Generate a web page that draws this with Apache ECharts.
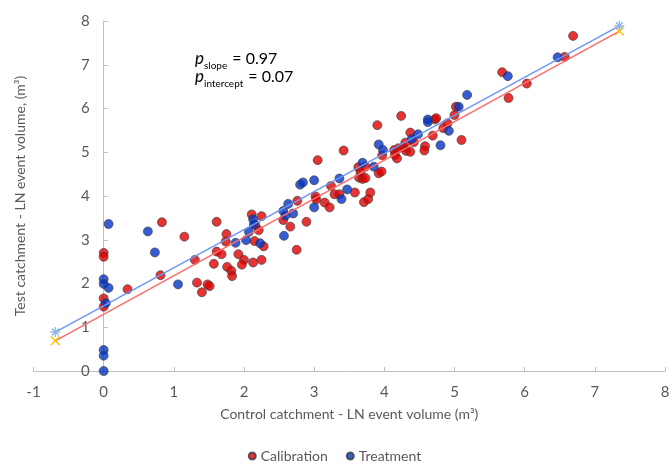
<!DOCTYPE html>
<html>
<head>
<meta charset="utf-8">
<script src="https://cdn.jsdelivr.net/npm/echarts@6/dist/echarts.min.js"></script>
<style>
  html, body { margin: 0; padding: 0; background: #fff; }
  #chart { width: 669px; height: 465px; }
</style>
</head>
<body>
<div id="chart"></div>
<script>
// calibration period events (control x, test y)
const calibration = [
  [0.83, 3.40], [1.15, 3.07], [1.61, 3.41], [0, 2.70], [0, 2.61], [0.34, 1.87], [0.81, 2.19],
  [1.30, 2.54], [0, 1.66], [0, 1.47], [1.33, 2.02], [1.40, 1.80], [1.48, 1.98], [1.51, 1.94],
  [1.61, 2.73], [1.68, 2.67], [1.57, 2.45], [1.75, 3.13], [1.74, 2.96], [1.76, 2.38], [1.82, 2.29],
  [1.83, 2.17], [1.92, 2.67], [2.00, 2.54], [1.97, 2.43], [2.15, 2.97], [2.28, 2.85], [2.13, 2.48],
  [2.25, 2.54], [2.21, 3.22], [2.11, 3.58], [2.16, 3.34], [2.25, 3.54], [2.56, 3.45], [2.66, 3.30],
  [2.89, 3.41], [2.75, 2.77], [2.76, 3.89], [3.05, 4.82], [3.42, 5.04], [3.02, 3.99], [3.03, 3.92],
  [3.15, 3.85], [3.22, 3.74], [3.24, 4.23], [3.29, 4.04], [3.36, 4.04], [3.58, 4.08], [3.71, 3.86],
  [3.63, 4.66], [3.66, 4.55], [3.64, 4.42], [3.69, 4.39], [3.73, 4.41], [3.73, 4.67], [3.77, 3.93],
  [3.80, 4.08], [3.92, 4.52], [3.96, 4.56], [3.90, 5.62], [3.97, 4.93], [4.14, 5.05], [4.15, 4.94],
  [4.18, 4.86], [4.20, 5.09], [4.27, 5.11], [4.30, 5.22], [4.31, 5.03], [4.37, 5.01], [4.42, 5.23],
  [4.37, 5.45], [4.24, 5.83], [4.58, 5.14], [4.57, 5.04], [4.69, 5.38], [4.72, 5.75], [4.74, 5.78],
  [4.84, 5.55], [4.90, 5.66], [5.00, 5.85], [5.02, 6.04], [5.10, 5.28], [5.68, 6.83], [6.03, 6.57],
  [5.77, 6.24], [6.57, 7.18], [6.69, 7.66]
];

// treatment period events
const treatment = [
  [0.07, 3.36], [0.63, 3.19], [0.73, 2.71], [0, 2.10], [0, 1.99], [0.07, 1.90], [0.03, 1.55],
  [0, 0.48], [0, 0.35], [0, 0], [1.06, 1.98], [1.88, 2.93], [2.03, 2.99], [2.07, 3.18],
  [2.23, 2.92], [2.13, 3.47], [2.14, 3.35], [2.56, 3.66], [2.59, 3.55], [2.70, 3.60], [2.57, 3.09],
  [2.63, 3.82], [2.80, 4.26], [2.84, 4.31], [3.00, 4.36], [3.00, 3.74], [3.36, 4.40], [3.39, 3.93],
  [3.47, 4.15], [3.69, 4.76], [3.85, 4.67], [3.92, 5.18], [3.98, 5.05], [4.39, 5.30], [4.48, 5.41],
  [4.80, 5.16], [4.62, 5.75], [4.62, 5.69], [4.92, 5.49], [5.06, 6.04], [5.18, 6.31], [5.76, 6.74],
  [6.47, 7.17]
];

// fitted lines, end points
const fitX = [-0.69, 7.35];
const calFitY = [0.69, 7.77];
const trtFitY = [0.89, 7.89];

const xMin = -1, xMax = 8;
const legendNames = ['Calibration', 'Treatment'];
const statLines = [
  {sub: 'slope', value: '0.97'},
  {sub: 'intercept', value: '0.07'}
];

const FONT = 'Lato';
const axisGrey = '#bfbfbf';
const labelGrey = '#595959';

const asterisk = 'path://M0,5 L10,5 M5,0 L5,10 M1.5,1.5 L8.5,8.5 M8.5,1.5 L1.5,8.5';
const cross = 'path://M1,1 L9,9 M9,1 L1,9';

function fitLine(ys) {
  return fitX.map((x, i) => [x, ys[i]]);
}

const gridLeft = 33.5, gridRight = 4;
// shift the y axis so it sits on x = 0
const yShift = (669 - gridLeft - gridRight) * (0 - xMin) / (xMax - xMin);

const chart = echarts.init(document.getElementById('chart'));

// p-value annotation
const statText = statLines.map((s, i) => ({
  type: 'text',
  left: 195,
  top: 50 + i * 18,
  style: {
    text: '{p|p}{s|' + s.sub + '}{v| = ' + s.value + '}',
    rich: {
      p: {fontFamily: FONT, fontStyle: 'italic', fontSize: 17, fill: '#000', verticalAlign: 'bottom', lineHeight: 18},
      s: {fontFamily: FONT, fontSize: 10, fill: '#000', verticalAlign: 'bottom', lineHeight: 18, padding: [0, 1, -4, 0]},
      v: {fontFamily: FONT, fontSize: 16, fill: '#000', verticalAlign: 'bottom', lineHeight: 18}
    }
  }
}));

const yTitle = {
  type: 'text',
  x: 20,
  y: 196,
  rotation: Math.PI / 2,
  style: {
    text: 'Test catchment - LN event volume, (m³)',
    fontFamily: FONT,
    fontSize: 14,
    fill: labelGrey,
    align: 'center',
    verticalAlign: 'middle'
  }
};

const option = {
  animation: false,
  textStyle: {fontFamily: FONT},
  grid: {left: gridLeft, right: gridRight, top: 21, bottom: 94, containLabel: false, outerBoundsMode: 'none'},
  legend: {
    data: legendNames,
    top: 444,
    left: 'center',
    icon: 'circle',
    itemWidth: 7,
    itemHeight: 7,
    itemGap: 18,
    textStyle: {fontFamily: FONT, fontSize: 14, color: labelGrey}
  },
  xAxis: {
    type: 'value',
    min: xMin,
    max: xMax,
    interval: 1,
    splitLine: {show: false},
    axisLine: {lineStyle: {color: axisGrey, width: 1}},
    axisTick: {inside: true, length: 4, lineStyle: {color: axisGrey}},
    axisLabel: {fontSize: 15, color: labelGrey, margin: 14, fontFamily: FONT},
    name: 'Control catchment - LN event volume (m³)',
    nameLocation: 'middle',
    nameGap: 36,
    nameMoveOverlap: false,
    nameTextStyle: {fontSize: 14, color: labelGrey, fontFamily: FONT}
  },
  yAxis: {
    type: 'value',
    min: 0,
    max: 8,
    interval: 1,
    offset: -yShift,
    splitLine: {show: false},
    axisLine: {onZero: false, lineStyle: {color: axisGrey, width: 1}},
    axisTick: {inside: true, length: 4, lineStyle: {color: axisGrey}},
    axisLabel: {fontSize: 15, color: labelGrey, margin: 14, fontFamily: FONT}
  },
  graphic: statText.concat([yTitle]),
  series: [
    {
      name: 'Calibration',
      type: 'scatter',
      data: calibration,
      symbolSize: 9,
      itemStyle: {color: '#e00000', borderColor: '#3a3a3a', borderWidth: 0.8}
    },
    {
      name: 'Treatment',
      type: 'scatter',
      data: treatment,
      symbolSize: 9,
      itemStyle: {color: '#0535c8', borderColor: '#3a3a3a', borderWidth: 0.8}
    },
    {
      name: 'Calibration fit',
      type: 'line',
      data: fitLine(calFitY),
      symbol: cross,
      symbolSize: 9,
      showSymbol: true,
      lineStyle: {color: '#ff6b6b', width: 1.5},
      itemStyle: {color: 'transparent', borderColor: '#ffc000', borderWidth: 1.3},
      z: 3
    },
    {
      name: 'Treatment fit',
      type: 'line',
      data: fitLine(trtFitY),
      symbol: asterisk,
      symbolSize: 10,
      showSymbol: true,
      lineStyle: {color: '#6e97f5', width: 1.5},
      itemStyle: {color: 'transparent', borderColor: '#8fb8e8', borderWidth: 1.3},
      z: 3
    }
  ]
};

chart.setOption(option);
</script>
</body>
</html>
